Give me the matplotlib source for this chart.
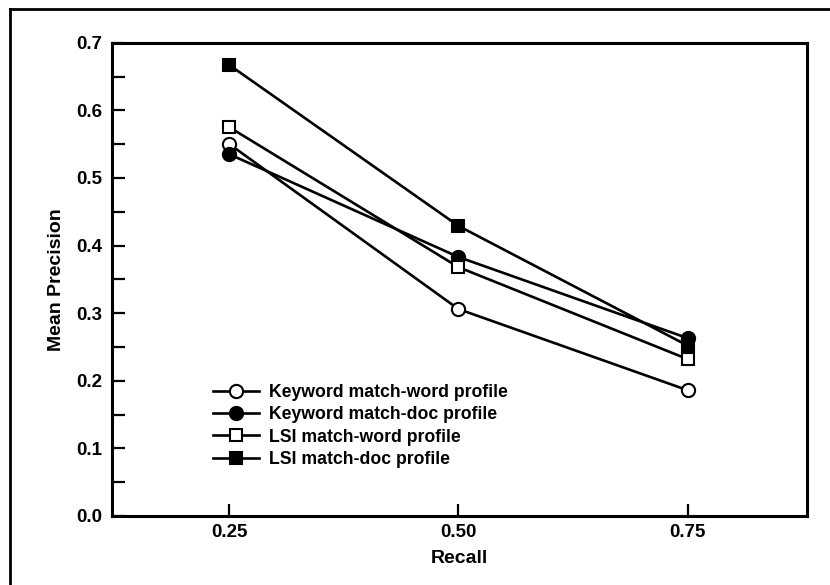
import matplotlib.pyplot as plt
from matplotlib.lines import Line2D

recall = [0.25, 0.50, 0.75]
kw_word = [0.550, 0.306, 0.186]
kw_doc = [0.535, 0.383, 0.263]
lsi_word = [0.575, 0.368, 0.232]
lsi_doc = [0.667, 0.429, 0.252]
labels = ["Keyword match-word profile", "Keyword match-doc profile",
          "LSI match-word profile", "LSI match-doc profile"]
yticks = [0.0, 0.1, 0.2, 0.3, 0.4, 0.5, 0.6, 0.7]

plt.rcParams['font.family'] = ['Liberation Sans', 'DejaVu Sans']
plt.rcParams['font.weight'] = 'bold'
plt.rcParams['axes.labelweight'] = 'bold'
tick_fs = 13.5
label_fs = 14
leg_fs = 12.7

fig = plt.figure(figsize=(8.3, 5.85), dpi=100)
ax = fig.add_axes([0.135, 0.118, 0.837, 0.809])

lw = 1.9
ax.plot(recall, kw_word, color="black", lw=lw, marker="o", ms=9.5,
        mfc="white", mec="black", mew=1.5, label=labels[0], zorder=3)
ax.plot(recall, kw_doc, color="black", lw=lw, marker="o", ms=9.5,
        mfc="black", mec="black", mew=1.5, label=labels[1], zorder=3)
ax.plot(recall, lsi_word, color="black", lw=lw, marker="s", ms=8,
        mfc="white", mec="black", mew=1.5, label=labels[2], zorder=4)
ax.plot(recall, lsi_doc, color="black", lw=lw, marker="s", ms=8,
        mfc="black", mec="black", mew=1.5, label=labels[3], zorder=4)

ax.set_xlim(0.122, 0.88)
ax.set_ylim(0, 0.7)
ax.set_xticks(recall)
ax.set_xticklabels(["0.25", "0.50", "0.75"], fontsize=tick_fs)
ax.set_yticks(yticks)
ax.set_yticklabels([f"{v:.1f}" for v in yticks], fontsize=tick_fs)
ax.set_yticks([0.05, 0.15, 0.25, 0.35, 0.45, 0.55, 0.65], minor=True)
ax.tick_params(which="both", direction="in", length=9, width=1.6,
               top=False, right=False)
ax.tick_params(axis="y", pad=7)
ax.tick_params(axis="x", pad=6)
for s in ax.spines.values():
    s.set_linewidth(2.2)

ax.set_xlabel("Recall", fontsize=label_fs, labelpad=6)
ax.set_ylabel("Mean Precision", fontsize=label_fs, labelpad=8)

ax.legend(loc="upper left", bbox_to_anchor=(0.145, 0.279), frameon=False,
          fontsize=leg_fs, handlelength=2.6, handletextpad=0.6,
          labelspacing=0.3, borderpad=0, borderaxespad=0)

# outer frame around the whole picture
fig.add_artist(Line2D([10 / 830, 10 / 830], [0, 1 - 9 / 585], color="black",
                      lw=2, transform=fig.transFigure))
fig.add_artist(Line2D([10 / 830, 1], [1 - 9 / 585, 1 - 9 / 585], color="black",
                      lw=2, transform=fig.transFigure))

fig.savefig("out.png", dpi=100)
